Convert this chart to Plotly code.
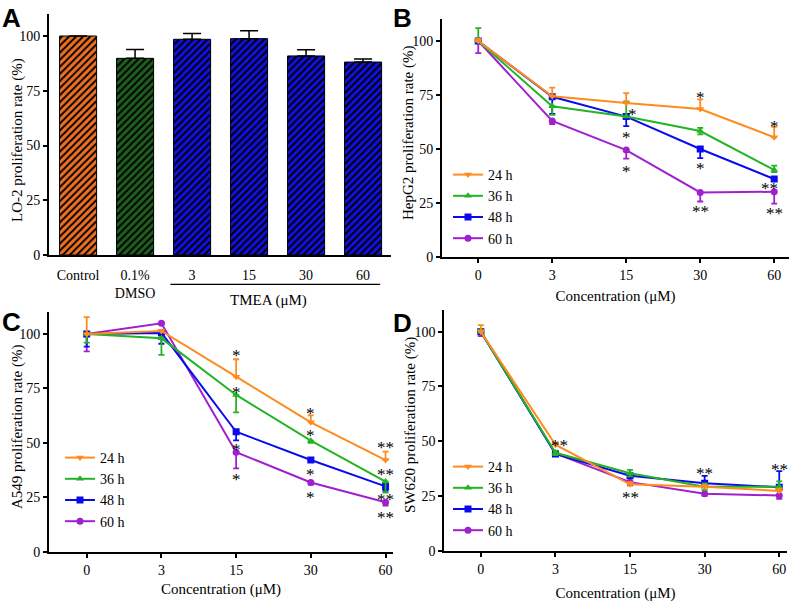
import plotly.graph_objects as go

# ---------------- data ----------------
# Panel A (LO-2 bars)
a_labels = ["Control", "0.1%<br>DMSO", "3", "15", "30", "60"]
a_values = [100, 89.8, 98.5, 98.8, 90.9, 88.1]
a_err = [0, 4.0, 2.6, 3.6, 2.8, 1.4]
a_colors = ["#F07020", "#1E5E1E", "#1010E0", "#1010E0", "#1010E0", "#1010E0"]

conc = ["0", "3", "15", "30", "60"]
series = ["24 h", "36 h", "48 h", "60 h"]

# Panel B (HepG2)
b_24 = [100, 74.4, 71.3, 68.5, 55.4]
b_36 = [100, 69.8, 65.0, 58.3, 40.3]
b_48 = [100, 74.2, 65.0, 50.0, 36.1]
b_60 = [100, 63.0, 49.5, 29.9, 30.2]
b_up = {"24 h": [1, 4, 4.6, 4.5, 4.8], "36 h": [6, 0, 7, 1.5, 2], "48 h": [0, 0, 0, 0, 0], "60 h": [0, 0, 0, 0, 0]}
b_dn = {"24 h": [0, 0, 0, 0, 0], "36 h": [0, 4, 0, 1.5, 1], "48 h": [0, 8, 4.4, 4.2, 1], "60 h": [5.6, 1.5, 4, 4.2, 5.5]}
b_stars = [(2.08, 68, "*"), (2, 57.3, "*"), (2, 41.5, "*"),
           (3, 75.5, "*"), (3, 42.6, "*"), (3, 22.8, "**"),
           (4, 62.2, "*"), (3.93, 33.6, "**"), (4, 22.1, "**")]

# Panel C (A549)
c_24 = [100, 101.4, 80.4, 59.4, 42.1]
c_36 = [100, 98.0, 72.0, 51.0, 32.2]
c_48 = [100, 100.5, 55.1, 42.1, 30.0]
c_60 = [100, 104.9, 45.7, 31.8, 22.7]
c_up = {"24 h": [7.7, 0.5, 8, 3.2, 3.9], "36 h": [0, 0, 0, 0, 0], "48 h": [0, 0, 0, 0, 0], "60 h": [0, 0, 0, 0, 0]}
c_dn = {"24 h": [0, 0, 0, 0, 0], "36 h": [4, 7.6, 8, 1, 5], "48 h": [5.8, 5, 4, 1, 2], "60 h": [8, 0.5, 7.4, 1, 1.5]}
c_stars = [(2, 91.9, "*"), (2, 75, "*"), (2, 49, "*"), (2, 35.2, "*"),
           (3, 65.5, "*"), (3, 55.4, "*"), (3, 37.2, "*"), (3, 26.5, "*"),
           (4, 49.8, "**"), (4, 37.2, "**"), (4, 25.6, "**"), (4, 17.6, "**")]

# Panel D (SW620)
d_24 = [100, 48.4, 30.3, 29.2, 27.3]
d_36 = [100, 44.7, 35.4, 29.2, 29.2]
d_48 = [100, 44.2, 34.2, 30.8, 29.0]
d_60 = [100, 44.4, 31.3, 26.0, 25.2]
d_up = {"24 h": [3, 0.5, 1, 1, 1], "36 h": [1, 1, 1.5, 1.5, 2.5], "48 h": [1, 0.5, 1, 3.4, 7.3], "60 h": [0, 0, 0, 0, 0]}
d_dn = {"24 h": [0, 0, 0, 0, 0], "36 h": [0, 1, 1.5, 1.5, 1], "48 h": [0, 0, 0, 0, 0], "60 h": [2, 0.5, 1.5, 1, 1.5]}
d_stars = [(1.05, 49.8, "**"), (2, 26.2, "**"), (3, 37.2, "**"), (4, 39.1, "**")]

y_titles = ["LO-2 proliferation rate (%)", "HepG2 proliferation rate (%)",
            "A549 proliferation rate (%)", "SW620 proliferation rate (%)"]

line_colors = {"24 h": "#FF8A1E", "36 h": "#22B422", "48 h": "#0A0AF0", "60 h": "#A020D0"}
symbols = {"24 h": "triangle-down", "36 h": "triangle-up", "48 h": "square", "60 h": "circle"}

W, H = 791, 603
SERIF = "Liberation Serif, Times New Roman, serif"


def px_x(p):
    return p / W


def px_y(p):
    return 1 - p / H


fig = go.Figure()

# ---- panel A bars (one trace per bar so each keeps its own hatch colours) ----
for lab, val, err, col in zip(a_labels, a_values, a_err, a_colors):
    fig.add_trace(go.Bar(
        x=[lab], y=[val], width=0.65,
        marker=dict(line=dict(color="black", width=1),
                    pattern=dict(shape="/", fgcolor="black", bgcolor=col, fgopacity=1,
                                 fillmode="replace", size=5, solidity=0.4)),
        error_y=dict(type="data", symmetric=False, array=[err], arrayminus=[0],
                     color="black", thickness=1.5, width=9),
        showlegend=False, xaxis="x", yaxis="y",
    ))

panels = [
    ("x2", "y2", "legend", [b_24, b_36, b_48, b_60], b_up, b_dn),
    ("x3", "y3", "legend2", [c_24, c_36, c_48, c_60], c_up, c_dn),
    ("x4", "y4", "legend3", [d_24, d_36, d_48, d_60], d_up, d_dn),
]
for xa, ya, lg, vals, up, dn in panels:
    for name, v in reversed(list(zip(series, vals))):
        fig.add_trace(go.Scatter(
            x=conc, y=v, name=name, mode="lines+markers",
            line=dict(color=line_colors[name], width=2),
            marker=dict(symbol=symbols[name], size=7, color=line_colors[name]),
            error_y=dict(type="data", symmetric=False, array=up[name], arrayminus=dn[name],
                         color=line_colors[name], thickness=1.8, width=3),
            xaxis=xa, yaxis=ya, legend=lg,
        ))

axis_common = dict(showline=True, linecolor="black", linewidth=2, ticks="outside",
                   ticklen=4, tickwidth=1.5, tickcolor="black", showgrid=False, zeroline=False,
                   automargin=False,
                   tickfont=dict(family=SERIF, size=14, color="black"))
ycommon = dict(axis_common, range=[0, 110], tickvals=[0, 25, 50, 75, 100])

doms = {
    "A": ([px_x(49), px_x(391)], [px_y(255), px_y(14.1)]),
    "B": ([px_x(442), px_x(789)], [px_y(257), px_y(19.4)]),
    "C": ([px_x(49), px_x(393)], [px_y(551.7), px_y(312.2)]),
    "D": ([px_x(444.3), px_x(786.7)], [px_y(550.7), px_y(309.8)]),
}
title_font = dict(family=SERIF, size=15, color="black")

fig.update_layout(
    width=W, height=H, margin=dict(l=0, r=0, t=0, b=0, autoexpand=False),
    paper_bgcolor="white", plot_bgcolor="white", barmode="overlay",
    font=dict(family=SERIF, color="black"),
    xaxis=dict(axis_common, domain=doms["A"][0], anchor="y", type="category", range=[-0.51, 5.49],
               categoryorder="array", categoryarray=a_labels, ticks="", ticklabelstandoff=6),
    yaxis=dict(ycommon, domain=doms["A"][1], anchor="x"),
    xaxis2=dict(axis_common, domain=doms["B"][0], anchor="y2", type="category", range=[-0.49, 4.2],
                title=dict(text="Concentration (μM)", font=title_font, standoff=9)),
    yaxis2=dict(ycommon, domain=doms["B"][1], anchor="x2"),
    xaxis3=dict(axis_common, domain=doms["C"][0], anchor="y3", type="category", range=[-0.505, 4.1],
                title=dict(text="Concentration (μM)", font=title_font, standoff=7)),
    yaxis3=dict(ycommon, domain=doms["C"][1], anchor="x3"),
    xaxis4=dict(axis_common, domain=doms["D"][0], anchor="y4", type="category", range=[-0.49, 4.1],
                title=dict(text="Concentration (μM)", font=title_font, standoff=12)),
    yaxis4=dict(ycommon, domain=doms["D"][1], anchor="x4"),
)

leg_common = dict(font=dict(family=SERIF, size=14, color="black"), bgcolor="rgba(0,0,0,0)",
                  traceorder="reversed", tracegroupgap=0, xanchor="left", yanchor="top",
                  itemwidth=30)
fig.update_layout(
    legend=dict(leg_common, x=px_x(448), y=px_y(159)),
    legend2=dict(leg_common, x=px_x(60), y=px_y(442)),
    legend3=dict(leg_common, x=px_x(448), y=px_y(451)),
)

annos = []
# y-axis titles (rotated text)
for txt, tx, ty in zip(y_titles, [17, 408, 17, 410], [140, 133, 427, 425]):
    annos.append(dict(x=px_x(tx), y=px_y(ty), xref="paper", yref="paper", text=txt,
                      textangle=-90, showarrow=False, xanchor="center", yanchor="middle",
                      font=title_font))

# stars
for xr, yr, stars in [("x2", "y2", b_stars), ("x3", "y3", c_stars), ("x4", "y4", d_stars)]:
    for sx, sy, txt in stars:
        annos.append(dict(x=sx, y=sy, xref=xr, yref=yr, text=txt, showarrow=False,
                          font=dict(family=SERIF, size=17, color="black"), yshift=-4))

# panel letters
for letter, lx, ly in [("A", 0, 1), ("B", 391, 1), ("C", 0, 305), ("D", 391, 306)]:
    annos.append(dict(x=px_x(lx), y=px_y(ly), xref="paper", yref="paper", text="<b>%s</b>" % letter,
                      showarrow=False, xanchor="left", yanchor="top",
                      font=dict(family="Liberation Sans, Arial, sans-serif", size=26, color="black")))

annos.append(dict(x=px_x(268), y=px_y(300), xref="paper", yref="paper", text="TMEA (μM)",
                  showarrow=False, font=title_font))
fig.update_layout(annotations=annos)

fig.add_shape(type="line", xref="x", yref="paper", x0=1.62, x1=5.3,
              y0=px_y(284.3), y1=px_y(284.3), line=dict(color="black", width=1.2))

fig.write_html("out.html", config={"displayModeBar": False},
               post_script="document.body.style.margin='0';document.body.style.padding='0';")
